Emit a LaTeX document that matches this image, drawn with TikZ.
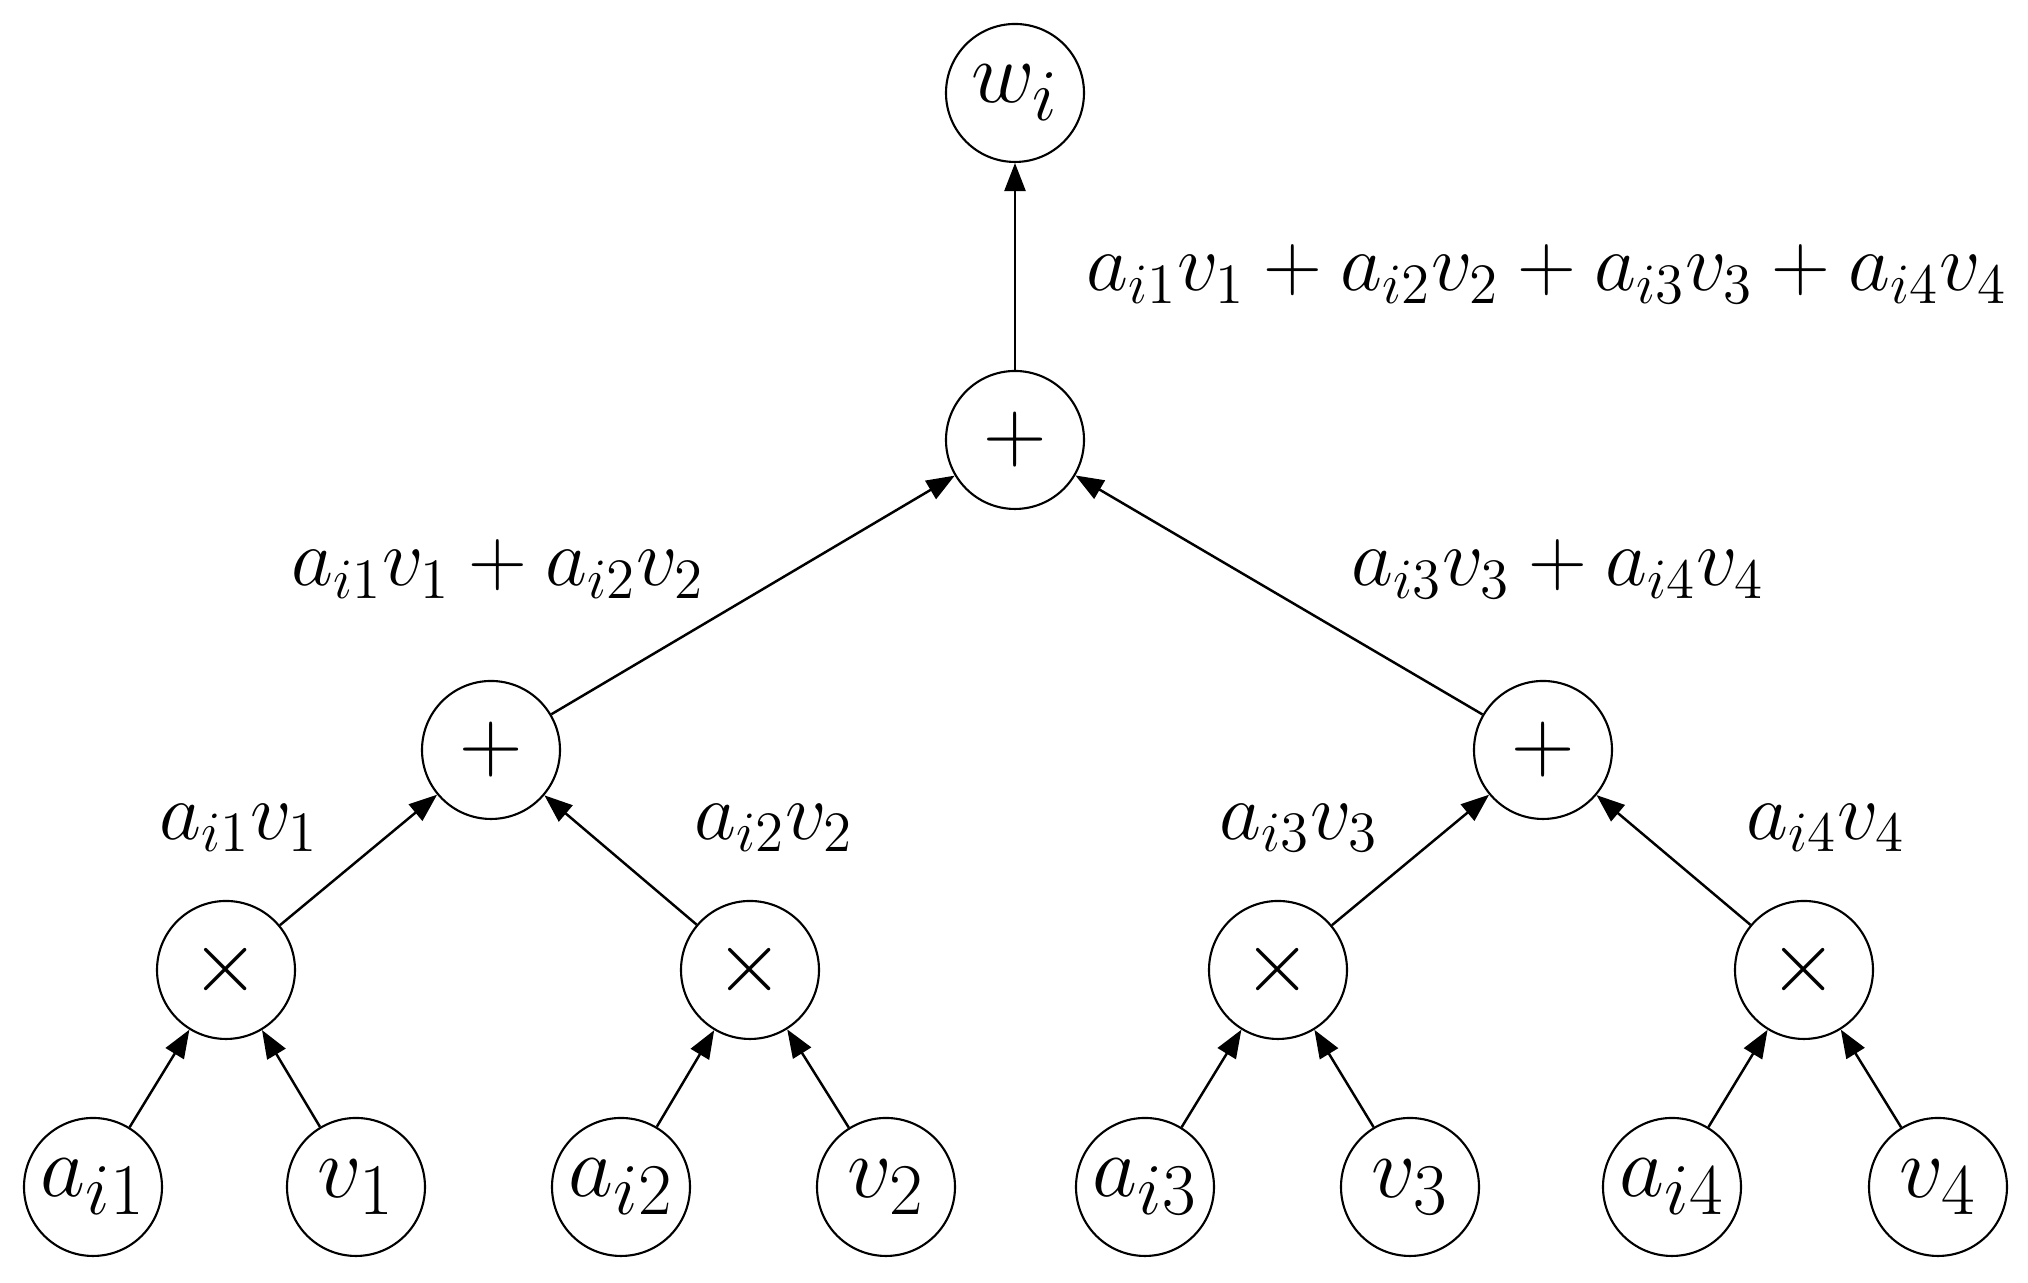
\RequirePackage{fix-cm}
\documentclass[tikz,border=0pt]{standalone}
\usepackage{amsmath}
\usepackage{tikz}
\usetikzlibrary{arrows.meta}

\begin{document}
\begin{tikzpicture}[
  nd/.style={draw,circle,minimum size=1.38cm,inner sep=0pt,line width=0.6pt,
             font=\Huge},
  op/.style={nd,font=\fontsize{25}{30}\selectfont},
  lbl/.style={font=\fontsize{23.2}{28}\selectfont,inner sep=0pt},
  arr/.style={-{Triangle[length=8pt,width=6pt]},line width=0.7pt}
]
\useasboundingbox (0,0) rectangle (20.28,12.83);

% output and sums
\node[nd] (w) at (10.15,11.90) {$w_i$};
\node[op] (s0) at (10.15,8.43) {$+$};
\node[op] (s1) at (4.91,5.33) {$+$};
\node[op] (s2) at (15.43,5.33) {$+$};

% products
\node[op] (m1) at (2.26,3.13) {$\times$};
\node[op] (m2) at (7.50,3.13) {$\times$};
\node[op] (m3) at (12.78,3.13) {$\times$};
\node[op] (m4) at (18.04,3.13) {$\times$};

% inputs
\node[nd] (a1) at (0.93,0.96) {$a_{i1}$};
\node[nd] (v1) at (3.56,0.96) {$v_1$};
\node[nd] (a2) at (6.21,0.96) {$a_{i2}$};
\node[nd] (v2) at (8.86,0.96) {$v_2$};
\node[nd] (a3) at (11.45,0.96) {$a_{i3}$};
\node[nd] (v3) at (14.10,0.96) {$v_3$};
\node[nd] (a4) at (16.72,0.96) {$a_{i4}$};
\node[nd] (v4) at (19.38,0.96) {$v_4$};

% edge labels
\node[lbl,anchor=west] (t0) at (10.86,10.09) {$a_{i1}v_1+a_{i2}v_2+a_{i3}v_3+a_{i4}v_4$};
\node[lbl] (t1) at (4.98,7.14) {$a_{i1}v_1+a_{i2}v_2$};
\node[lbl] (t2) at (15.58,7.14) {$a_{i3}v_3+a_{i4}v_4$};
\node[lbl] (p1) at (2.39,4.55) {$a_{i1}v_1$};
\node[lbl] (p2) at (7.74,4.55) {$a_{i2}v_2$};
\node[lbl] (p3) at (12.99,4.55) {$a_{i3}v_3$};
\node[lbl] (p4) at (18.26,4.55) {$a_{i4}v_4$};

\draw[arr] (s0) -- (w);
\draw[arr] (s1) -- (s0);
\draw[arr] (s2) -- (s0);
\draw[arr] (m1) -- (s1);
\draw[arr] (m2) -- (s1);
\draw[arr] (m3) -- (s2);
\draw[arr] (m4) -- (s2);
\draw[arr] (a1) -- (m1);
\draw[arr] (v1) -- (m1);
\draw[arr] (a2) -- (m2);
\draw[arr] (v2) -- (m2);
\draw[arr] (a3) -- (m3);
\draw[arr] (v3) -- (m3);
\draw[arr] (a4) -- (m4);
\draw[arr] (v4) -- (m4);
\end{tikzpicture}
\end{document}
